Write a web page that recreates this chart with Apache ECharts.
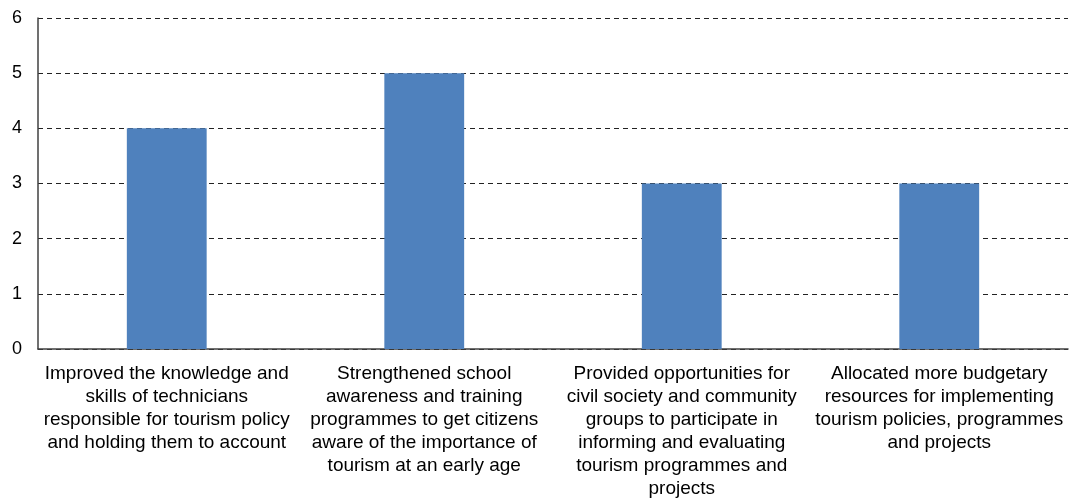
<!DOCTYPE html>
<html>
<head>
<meta charset="utf-8">
<script src="https://cdn.jsdelivr.net/npm/echarts@6/dist/echarts.min.js"></script>
<style>
  html, body { margin: 0; padding: 0; background: #ffffff; }
  #chart { width: 1077px; height: 500px; }
</style>
</head>
<body>
<div id="chart"></div>
<script>
// Category labels (line breaks as shown under each bar)
const categories = [
  "Improved the knowledge and\nskills of technicians\nresponsible for tourism policy\nand holding them to account",
  "Strengthened school\nawareness and training\nprogrammes to get citizens\naware of the importance of\ntourism at an early age",
  "Provided opportunities for\ncivil society and community\ngroups to participate in\ninforming and evaluating\ntourism programmes and\nprojects",
  "Allocated more budgetary\nresources for implementing\ntourism policies, programmes\nand projects"
];
const values = [4, 5, 3, 3];
const yTicks = { min: 0, max: 6, interval: 1 };

const chart = echarts.init(document.getElementById('chart'), null, { renderer: 'canvas' });
chart.setOption({
  animation: false,
  backgroundColor: '#ffffff',
  grid: { left: 38, right: 9, top: 18, bottom: 151, containLabel: false },
  xAxis: {
    type: 'category',
    data: categories,
    axisLine: { show: true, lineStyle: { color: '#404040', width: 1.5 } },
    axisTick: { show: false },
    axisLabel: {
      interval: 0,
      margin: 13,
      color: '#000000',
      fontFamily: 'Liberation Sans, Arial, sans-serif',
      fontSize: 19,
      lineHeight: 23,
      align: 'center'
    },
    splitLine: { show: false }
  },
  yAxis: {
    type: 'value',
    min: yTicks.min,
    max: yTicks.max,
    interval: yTicks.interval,
    axisLine: { show: true, lineStyle: { color: '#404040', width: 1.5 } },
    axisTick: { show: false },
    axisLabel: {
      margin: 16,
      color: '#000000',
      fontFamily: 'Liberation Sans, Arial, sans-serif',
      fontSize: 18
    },
    splitLine: {
      show: true,
      lineStyle: { color: '#222222', width: 1, type: [5, 4] }
    }
  },
  series: [{
    type: 'bar',
    data: values,
    barWidth: '31%',
    itemStyle: { color: '#4F81BD' }
  }]
});
</script>
</body>
</html>
